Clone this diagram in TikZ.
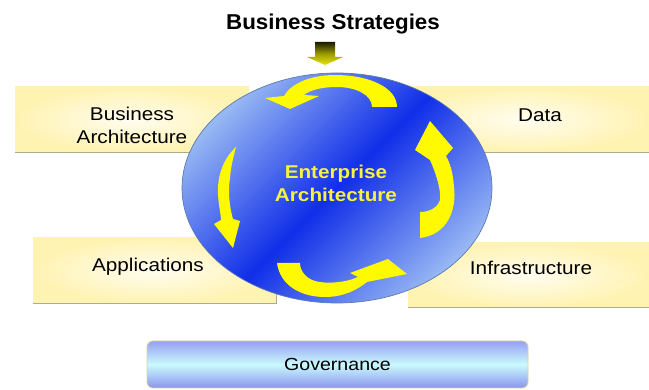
\documentclass[tikz,border=0pt]{standalone}
\usepackage{fontspec}
\setmainfont{Liberation Sans}
\newfontfamily\labelfont[FakeStretch=1.12]{Liberation Sans}
\newfontfamily\titlefont[FakeStretch=1.04]{Liberation Sans}
\usetikzlibrary{shapes.geometric}
\definecolor{boxyellow}{RGB}{255,243,178}
\definecolor{boxshadow}{RGB}{172,172,140}
\definecolor{ealight}{RGB}{152,184,244}
\definecolor{eadark}{RGB}{16,46,232}
\definecolor{earim}{RGB}{92,122,172}
\definecolor{cycleyellow}{RGB}{255,250,0}
\definecolor{eayellow}{RGB}{246,242,64}
\definecolor{govtop}{RGB}{150,160,242}
\definecolor{govmid}{RGB}{202,250,255}
\definecolor{govbot}{RGB}{138,148,238}
\definecolor{govrim}{RGB}{214,214,150}
\tikzset{
label text/.style={font=\labelfont\fontsize{18.5}{23}\selectfont,align=center,inner sep=0pt},
ea text/.style={label text,font=\labelfont\bfseries\fontsize{18.5}{23}\selectfont,text=eayellow},
title text/.style={font=\titlefont\bfseries\fontsize{21.5}{25}\selectfont,inner sep=0pt},
layer box/.style={shading=radial,inner color=boxyellow!20!white,outer color=boxyellow,inner sep=0pt},
layer shadow/.style={draw=boxshadow,line width=1.3pt},
ea disc/.style={ellipse,draw=earim,line width=0.7pt,shading=axis,top color=ealight,bottom color=ealight,middle color=eadark,shading angle=45,inner sep=0pt},
cycle arrow/.style={fill=cycleyellow},
strategy arrow/.style={top color={black!90!yellow},bottom color=cycleyellow!92!black,middle color={black!40!yellow}},
gov box/.style={rounded corners=6pt,draw=govrim,line width=0.8pt,top color=govtop,bottom color=govbot,middle color=govmid,inner sep=0pt,font=\labelfont\fontsize{17.5}{21}\selectfont}
}
\begin{document}
\begin{tikzpicture}[x=1pt,y=-1pt]
\useasboundingbox (0,0) rectangle (649,390);
% layers behind the disc
\node[layer box,minimum width=234,minimum height=65] (babox) at (132,119.5) {};
\node[layer box,minimum width=249,minimum height=65] (databox) at (524.5,119.5) {};
\node[layer box,minimum width=243,minimum height=65] (appsbox) at (154.5,270.5) {};
\node[layer box,minimum width=241,minimum height=64] (infrabox) at (528.5,275) {};
\draw[layer shadow] (babox.south west) -- (babox.south east);
\draw[layer shadow] (databox.south west) -- (databox.south east);
\draw[layer shadow] (appsbox.south west) -- (appsbox.south east) -- (appsbox.north east);
\draw[layer shadow] (infrabox.south west) -- (infrabox.south east);
% the disc
\node[ea disc,minimum width=310,minimum height=230] (ea) at (337,188) {};
% business strategies
\node[title text,anchor=base] (strategies) at (333,30) {Business Strategies};
\path[strategy arrow] (315,42) -- (335,42) -- (335,57) -- (343,57) -- (325,65) -- (307,57) -- (315,57) -- cycle;
% cycle of arrows
\fill[cycle arrow] (397,107) .. controls (397,88) and (370,75) .. (335,75)
  .. controls (308,75) and (290,85) .. (284,96) -- (265,98) -- (290,109) -- (319,96) -- (304,95)
  .. controls (310,90) and (322,87) .. (337,87) .. controls (356,87) and (372,95) .. (372,107) -- cycle;
\fill[cycle arrow] (236,147) .. controls (222,160) and (217,178) .. (218,195)
  .. controls (219,208) and (221,215) .. (221,220) -- (214,224) -- (233,248) -- (240,221) -- (233,219)
  .. controls (229,205) and (228,190) .. (230,178) .. controls (231,165) and (234,155) .. (236,147) -- cycle;
\fill[cycle arrow] (277,263) .. controls (280,285) and (300,297) .. (325,297)
  .. controls (345,297) and (358,289) .. (367,282) -- (407,274) -- (388,259) -- (350,273) -- (358,277)
  .. controls (345,283) and (325,284) .. (315,281) .. controls (305,278) and (300,270) .. (300,263) -- cycle;
\fill[cycle arrow] (420,238) .. controls (447,235) and (457,210) .. (454,187)
  .. controls (453,172) and (450,163) .. (446,156) -- (453,148) -- (430,121) -- (415,150) -- (430,160)
  .. controls (437,176) and (441,190) .. (440,200) .. controls (438,207) and (430,212) .. (420,212) -- cycle;
\node[ea text] (eatxt) at (336,183) {Enterprise\\Architecture};
% layer labels
\node[label text] (ba) at (132,125) {Business\\Architecture};
\node[label text,anchor=base] (data) at (540,122) {Data};
\node[label text,anchor=base] (apps) at (148,272) {Applications};
\node[label text,anchor=base] (infra) at (531,275) {Infrastructure};
% governance
\node[gov box,minimum width=381,minimum height=47] (gov) at (337.5,364.5) {Governance};
\end{tikzpicture}
\end{document}
